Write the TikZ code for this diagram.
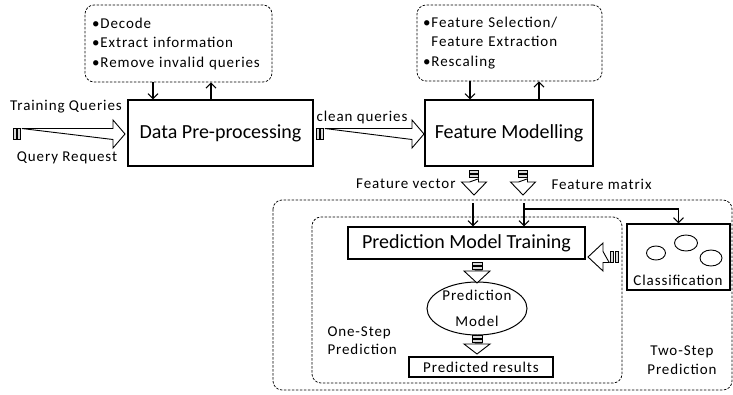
\documentclass[tikz,border=0pt]{standalone}
\usepackage{fontspec}
\setmainfont{Carlito}
\newfontfamily\lsfont[LetterSpace=6]{Carlito}
\usetikzlibrary{arrows.meta,shapes.geometric,calc}
\begin{document}
\begin{tikzpicture}[x=1pt,y=-1pt,
  dbox/.style={draw, dash pattern=on 2.5pt off 1.5pt, rounded corners=9pt, line width=0.75pt},
  sbox/.style={draw, line width=1.1pt, inner sep=0pt},
  arr/.style={line width=1.1pt, -{Straight Barb[length=5pt,width=10pt]}},
  big/.style={font=\fontsize{20}{24}\selectfont},
  small/.style={font=\lsfont\fontsize{15}{19.5}\selectfont},
  stripe/.style={draw, line width=0.6pt, fill=gray!30},
  hollow/.style={draw, line width=0.9pt, fill=white},
  pics/barrow/.style n args={4}{code={
    \draw[stripe] (0,-#2) rectangle (3.2,#2);
    \draw[stripe] (4.4,-#2) rectangle (7.6,#2);
    \draw[hollow] (8.8,-#2) -- ({#1-#4},-#2) -- ({#1-#4},-#3) -- (#1,0) -- ({#1-#4},#3) -- ({#1-#4},#2) -- cycle;
  }}
]
\useasboundingbox (0,0) rectangle (733,394);

% top dashed boxes
\node[dbox, small, align=left, minimum width=187pt, minimum height=77pt, text width=173pt, inner xsep=7pt, inner ysep=0pt] (box1) at (178.5,43.5)
  {\textbullet\hspace{1pt}Decode\\ \textbullet\hspace{1pt}Extract information\\ \textbullet\hspace{1pt}Remove invalid queries};
\node[dbox, small, align=left, minimum width=185pt, minimum height=76pt, text width=173pt, inner xsep=6pt, inner ysep=0pt] (box2) at (509.5,43)
  {\textbullet\hspace{1pt}Feature Selection/\\ \phantom{\textbullet}\hspace{1pt}Feature Extraction\\ \textbullet\hspace{1pt}Rescaling};

% main boxes
\node[sbox, big, minimum width=185pt, minimum height=66pt] (dpp) at (220.5,133) {Data Pre-processing};
\node[sbox, big, minimum width=168pt, minimum height=66pt] (fm) at (509,133) {Feature Modelling};

% arrows box <-> main
\coordinate (d1) at ([xshift=-25.5pt]box1.south);
\coordinate (u1) at ([xshift=32.5pt]box1.south);
\draw[arr] (d1) -- (d1 |- dpp.north);
\draw[arr] (u1 |- dpp.north) -- (u1);
\coordinate (d2) at ([xshift=-39.5pt]box2.south);
\coordinate (u2) at ([xshift=29.5pt]box2.south);
\draw[arr] (d2) -- (d2 |- fm.north);
\draw[arr] (u2 |- fm.north) -- (u2);

% input labels and block arrows
\node[small] (tq) at (66,107) {Training Queries};
\node[small] (qr) at (67,158) {Query Request};
\pic at (13,134) {barrow={112}{5.5}{14}{12}};
\node[small] (cq) at (362,117) {clean queries};
\pic at (316,134) {barrow={108}{5.5}{14}{12}};

% feature outputs
\pic[rotate=-90] at (474,170) {barrow={25}{4.5}{12.5}{13}};
\pic[rotate=-90] at (523,170) {barrow={25}{4.5}{12.5}{13}};
\node[small, anchor=east] (fvl) at (459,184) {Feature vector};
\node[small, anchor=west] (fml) at (548,184) {Feature matrix};

% containers
\draw[dbox] (273,200) rectangle (732,390);
\draw[dbox] (312,217) rectangle (622,383);

% prediction part
\node[sbox, big, minimum width=237pt, minimum height=32pt] (pmt) at (466.5,243) {Prediction Model Training};
\node[draw, ellipse, line width=1pt, inner sep=0pt, minimum width=100pt, minimum height=53pt, align=center, font=\lsfont\fontsize{15}{26}\selectfont] (pm) at (477,308.5) {Prediction\\Model};
\node[sbox, small, minimum width=144pt, minimum height=20pt] (pr) at (481,367) {Predicted results};
\node[sbox, minimum width=103pt, minimum height=66pt] (cls) at (678.5,257) {};
\node[small] (clst) at (678,280) {Classification};
\draw[line width=0.9pt] (656,253) ellipse [x radius=9.5pt, y radius=7pt];
\draw[line width=0.9pt] (686,243) ellipse [x radius=11.5pt, y radius=8pt];
\draw[line width=0.9pt] (711,258) ellipse [x radius=11pt, y radius=8pt];

\coordinate (fv) at (473,203);
\coordinate (fmx) at (524,203);
\coordinate (br) at (524,209);
\draw[arr] (fv) -- (fv |- pmt.north);
\draw[arr] (fmx) -- (fmx |- pmt.north);
\draw[arr] (br) -| (cls.north);

\pic[rotate=180] at (618,257) {barrow={30}{5.5}{14}{15}};
\pic[rotate=-90] at (477,262) {barrow={21}{5}{13}{12}};
\pic[rotate=-90] at (477,335) {barrow={19}{5}{13}{10}};

\node[small, align=left, anchor=west, font=\lsfont\fontsize{15}{18}\selectfont] (os) at (324,341) {One-Step\\Prediction};
\node[small, align=center, font=\lsfont\fontsize{15}{19}\selectfont] (ts) at (682,360.5) {Two-Step\\Prediction};
\end{tikzpicture}
\end{document}
